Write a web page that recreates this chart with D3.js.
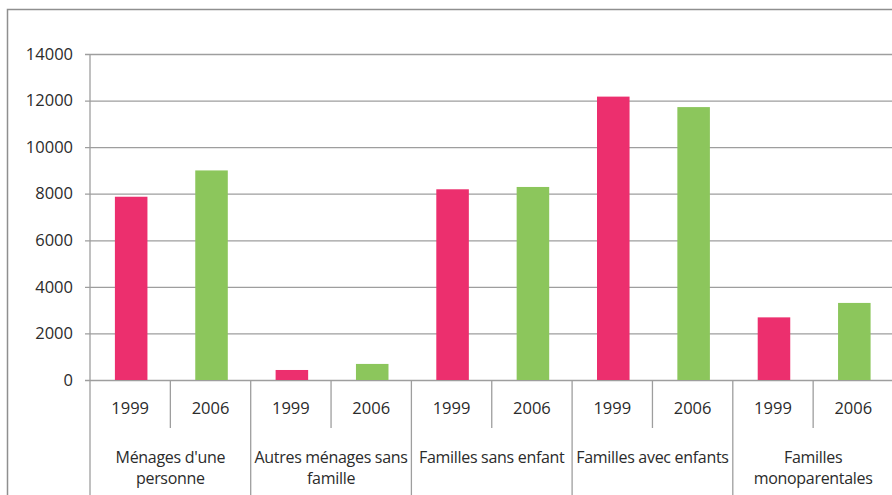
<!DOCTYPE html>
<html>
<head>
<meta charset="utf-8">
<script src="https://cdn.jsdelivr.net/npm/d3@7"></script>
<style>
  body { margin: 0; background: #fff; }
  svg { display: block; font-family: "Open Sans", sans-serif; }
</style>
</head>
<body>
<div id="chart"></div>
<script>
// household types, two census years
const categories = [
  ["Ménages d'une", "personne"],
  ["Autres ménages sans", "famille"],
  ["Familles sans enfant"],
  ["Familles avec enfants"],
  ["Familles", "monoparentales"]
];
const years = ["1999", "2006"];
const values1999 = [7870, 430, 8190, 12170, 2690];
const values2006 = [9000, 690, 8290, 11720, 3310];
const yTicks = [0, 2000, 4000, 6000, 8000, 10000, 12000, 14000];

const width = 892,
    height = 495;

const colors = {"1999": "#ec2f6e", "2006": "#8cc65c"};

const svg = d3.select("#chart")
    .append("svg")
    .attr("width", width)
    .attr("height", height);

svg.append("rect")
    .attr("width", width).attr("height", height)
    .attr("fill", "#fff");

// outer chart frame (runs off the right and bottom edges)
svg.append("rect")
    .attr("x", 7.5).attr("y", 9.5)
    .attr("width", 920).attr("height", 520)
    .attr("fill", "none")
    .attr("stroke", "#8f8f8f")
    .attr("stroke-width", 1.5);

const plotLeft = 90, plotRight = 893.5, plotTop = 54, plotBase = 380;

const y = d3.scaleLinear()
    .domain([0, 14000])
    .range([plotBase, plotTop]);

const catIdx = categories.map((d, i) => i);
const x0 = d3.scaleBand()
    .domain(catIdx)
    .range([plotLeft, plotRight])
    .padding(0);

const x1 = d3.scaleBand()
    .domain(years)
    .range([0, x0.bandwidth()])
    .padding(0);

const barW = x1.bandwidth() * 0.405;

// gridlines + y axis
const yAxis = svg.append("g")
    .attr("transform", `translate(${plotLeft},0)`)
    .call(d3.axisLeft(y).tickValues(yTicks).tickFormat(d3.format("d"))
      .tickSize(5).tickPadding(12));
yAxis.select(".domain").remove();
yAxis.selectAll(".tick line")
    .attr("x1", -5)
    .attr("x2", plotRight - plotLeft)
    .attr("stroke", "#9e9e9e")
    .attr("stroke-width", 1.3);
yAxis.selectAll(".tick text")
    .attr("fill", "#2b2b2b")
    .style("font-size", "16.5px")
    .style("font-family", "Open Sans, sans-serif");

svg.append("line")
    .attr("x1", plotLeft).attr("x2", plotLeft)
    .attr("y1", plotTop).attr("y2", plotBase)
    .attr("stroke", "#9e9e9e").attr("stroke-width", 1.3);

// bars
const rows = [];
catIdx.forEach(i => {
  rows.push({cat: i, year: "1999", value: values1999[i]});
  rows.push({cat: i, year: "2006", value: values2006[i]});
});

svg.append("g")
    .selectAll("rect")
    .data(rows)
    .join("rect")
    .attr("x", d => x0(d.cat) + x1(d.year) + (x1.bandwidth() - barW) / 2 + 1)
    .attr("y", d => y(d.value))
    .attr("width", barW)
    .attr("height", d => y(0) - y(d.value))
    .attr("fill", d => colors[d.year]);

// category dividers and year dividers below the axis
const divG = svg.append("g")
    .attr("stroke", "#9e9e9e").attr("stroke-width", 1.3);
catIdx.concat([catIdx.length]).forEach(i => {
  const xx = i < catIdx.length ? x0(i) : plotRight;
  divG.append("line")
      .attr("x1", xx).attr("x2", xx)
      .attr("y1", plotBase).attr("y2", height);
});
catIdx.forEach(i => {
  const xx = x0(i) + x1("2006");
  divG.append("line")
      .attr("x1", xx).attr("x2", xx)
      .attr("y1", plotBase).attr("y2", 428);
});

// year labels
svg.append("g")
    .selectAll("text")
    .data(rows)
    .join("text")
    .attr("x", d => x0(d.cat) + x1(d.year) + x1.bandwidth() / 2)
    .attr("y", 408)
    .attr("dy", "0.35em")
    .attr("text-anchor", "middle")
    .attr("fill", "#2b2b2b")
    .style("font-size", "16.5px")
    .text(d => d.year);

// category labels
svg.append("g")
    .selectAll("text")
    .data(catIdx)
    .join("text")
    .attr("x", i => x0(i) + x0.bandwidth() / 2)
    .attr("text-anchor", "middle")
    .attr("fill", "#2b2b2b")
    .style("font-size", "16px")
    .style("letter-spacing", "-0.3px")
    .each(function (i) {
      d3.select(this).selectAll("tspan")
        .data(categories[i])
        .join("tspan")
        .attr("x", x0(i) + x0.bandwidth() / 2)
        .attr("y", (d, k) => 457 + k * 21)
        .attr("dy", "0.35em")
        .text(d => d);
    });
</script>
</body>
</html>
